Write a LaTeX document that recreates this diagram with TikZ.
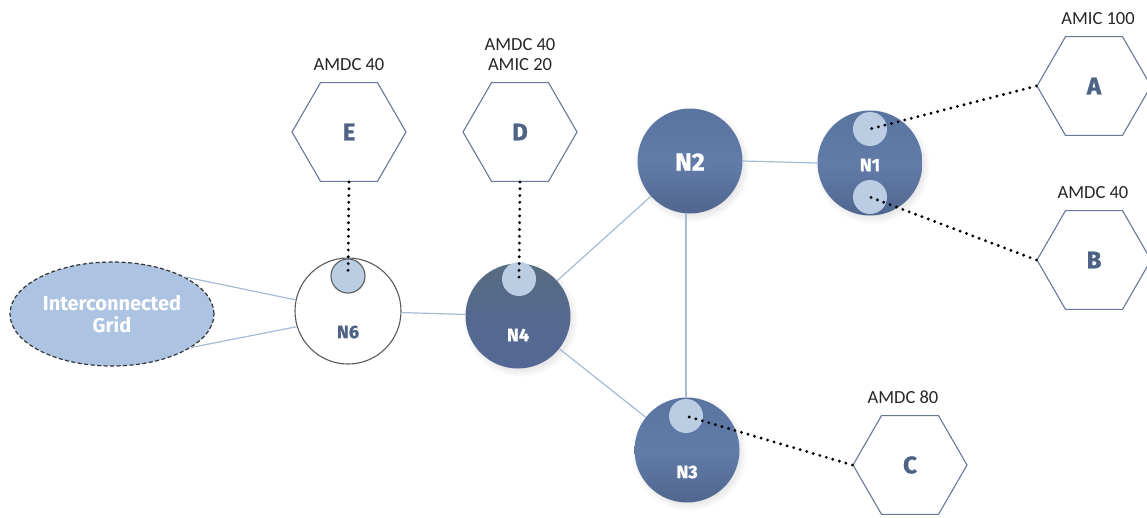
\documentclass[tikz,border=0pt]{standalone}
\usepackage{fontspec}
\setmainfont{Carlito}
\newfontfamily\boldsans{Fira Sans}
\newfontfamily\heavysans{Fira Sans}[BoldFeatures={FakeBold=1.2}]
\usetikzlibrary{shapes.geometric,shadows}
\definecolor{nodetop}{RGB}{90,116,160}
\definecolor{nodemid}{RGB}{98,124,170}
\definecolor{nodebot}{RGB}{80,102,142}
\definecolor{n4top}{RGB}{86,108,126}
\definecolor{n4bot}{RGB}{84,104,150}
\definecolor{subfill}{RGB}{186,205,226}
\definecolor{edgecol}{RGB}{165,188,214}
\definecolor{hexline}{RGB}{105,120,148}
\definecolor{hexletter}{RGB}{78,98,134}
\definecolor{gridfill}{RGB}{172,196,226}
\definecolor{n6line}{RGB}{90,90,95}
\tikzset{
  bignode/.style={circle, minimum size=105pt, inner sep=0pt, draw=none,
    top color=nodetop, bottom color=nodebot, middle color=nodemid,
    circular drop shadow={shadow xshift=2pt, shadow yshift=-3pt, opacity=0.18, fill=gray}},
  subc/.style={circle, minimum size=34pt, inner sep=0pt, fill=subfill},
  hexnode/.style={regular polygon, regular polygon sides=6, minimum size=114pt, inner sep=0pt,
    draw=hexline, line width=1.1pt, fill=white, text=hexletter,
    font=\heavysans\bfseries\fontsize{24}{28}\selectfont},
  amlabel/.style={font=\fontsize{18.5}{21}\selectfont, text=black!85, align=center, inner sep=0pt},
  nlabel/.style={text=white, font=\heavysans\bfseries\fontsize{18}{20}\selectfont},
  edge/.style={draw=edgecol, line width=1.2pt},
  dotline/.style={draw=black, line width=3.2pt, line cap=round, dash pattern=on 0pt off 6.8pt}
}
\begin{document}
\begin{tikzpicture}[x=1pt,y=-1pt]
\useasboundingbox (0,0) rectangle (1147,517);

% hexagons
\node[hexnode] (E) at (349,132) {E};
\node[hexnode] (D) at (520,132) {D};
\node[hexnode] (A) at (1094,86) {A};
\node[hexnode] (B) at (1094,260) {B};
\node[hexnode] (C) at (910,465) {C};

% labels
\node[amlabel] (lE) at (349,65) {AMDC 40};
\node[amlabel] (lD) at (520,55) {AMDC 40\\[-1pt]AMIC 20};
\node[amlabel] (lA) at (1098,19) {AMIC 100};
\node[amlabel] (lB) at (1093,193) {AMDC 40};
\node[amlabel] (lC) at (903,397) {AMDC 80};

% grid
\node[ellipse, minimum width=204pt, minimum height=104pt, inner sep=0pt,
  fill=gridfill, draw=black!80, line width=1.2pt, dash pattern=on 4pt off 2.5pt,
  text=white, align=center, font=\boldsans\bfseries\fontsize{20}{22}\selectfont]
  (grid) at (112,314) {Interconnected\\Grid};

% network nodes
\node[circle, minimum size=106pt, inner sep=0pt, draw=n6line, line width=1.1pt, fill=white] (N6) at (348,311) {};
\node[bignode, top color=n4top, bottom color=n4bot, middle color=n4bot!70!n4top] (N4) at (518,316) {};
\node[bignode] (N2) at (690,161) {};
\node[bignode] (N1) at (870,163) {};
\node[bignode] (N3) at (687,450) {};

% sub circles
\node[subc, draw=n6line, line width=1.1pt] (s6) at (348,276) {};
\node[subc] (s4) at (519,279) {};
\node[subc] (s1a) at (870,129) {};
\node[subc] (s1b) at (870,197) {};
\node[subc] (s3) at (686,416) {};

% node labels
\node[nlabel, font=\heavysans\bfseries\fontsize{25}{28}\selectfont] (t2) at (690,162) {N2};
\node[nlabel] (t1) at (870,165) {N1};
\node[nlabel] (t4) at (518,335) {N4};
\node[nlabel] (t3) at (687,472) {N3};
\node[nlabel, text=hexletter] (t6) at (348,332) {N6};

% edges
\path[edge] (grid.27) -- (N6.168);
\path[edge] (grid.-23) -- (N6.197);
\path[edge] (N6) -- (N4);
\path[edge] (N4) -- (N2);
\path[edge] (N4) -- (N3);
\path[edge] (N2.east) -- (N1.west);
\path[edge] (N2.south -| 686,0) -- (N3.north -| 686,0);

% dotted links
\path[dotline] (E.south) -- (s6.center);
\path[dotline] (D.south) -- (s4.center);
\path[dotline] (A.west) -- (s1a.center);
\path[dotline] (B.west) -- (s1b.center);
\path[dotline] (C.west) -- (s3.center);
\end{tikzpicture}
\end{document}
